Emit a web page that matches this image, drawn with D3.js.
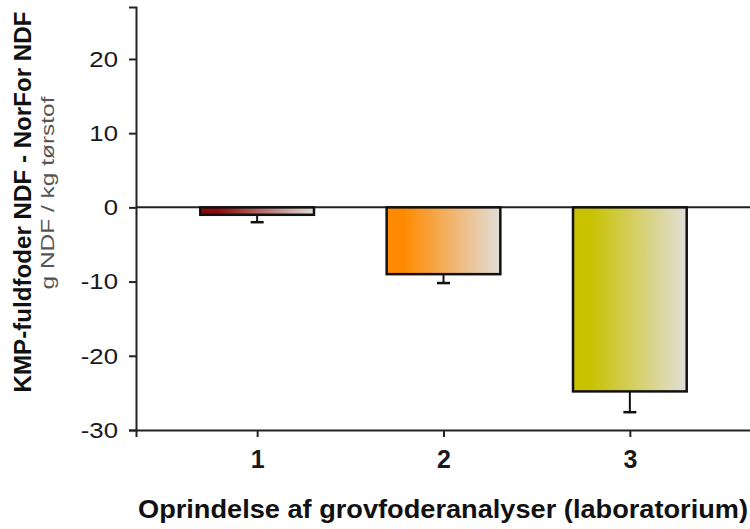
<!DOCTYPE html>
<html>
<head>
<meta charset="utf-8">
<script src="https://cdn.jsdelivr.net/npm/d3@7"></script>
<style>
  body { margin: 0; background: #fff; }
  svg { display: block; font-family: "Liberation Sans", Arial, sans-serif; }
</style>
</head>
<body>
<div id="chart"></div>
<script>
// data
const categories = [1, 2, 3];
const values = [-1.0, -9.0, -24.8];
const errors = [1.0, 1.2, 2.8];
const yTicks = [-30, -20, -10, 0, 10, 20];
const colors = ["#8c0a0a", "#ff8a00", "#c8c200"];
const xTitle = "Oprindelse af grovfoderanalyser (laboratorium)";
const yTitle = "KMP-fuldfoder NDF - NorFor NDF";
const ySubTitle = "g NDF / kg tørstof";

const width = 750, height = 529;

const svg = d3.select("#chart").append("svg")
    .attr("width", width)
    .attr("height", height);

const x = d3.scaleLinear().domain([0.35, 3.65]).range([136, 751]);
const y = d3.scaleLinear().domain([-30, 27]).range([430, 7]);
const barW = 0.61;

// gradients, strong colour on the left fading to grey-white
const defs = svg.append("defs");
colors.forEach((c, i) => {
    const g = defs.append("linearGradient")
        .attr("id", "grad" + i)
        .attr("x1", "0%").attr("x2", "100%")
        .attr("y1", "0%").attr("y2", "0%");
    g.append("stop").attr("offset", "0%").attr("stop-color", c);
    g.append("stop").attr("offset", "15%").attr("stop-color", c);
    g.append("stop").attr("offset", "100%").attr("stop-color", "#e2ded8");
});

// y axis
const yAxis = d3.axisLeft(y).tickValues(yTicks).tickSize(7).tickPadding(0).tickFormat(d => String(d));
const gy = svg.append("g")
    .attr("transform", `translate(${x(0.35)},0)`)
    .call(yAxis);
gy.select(".domain").attr("stroke", "#222").attr("stroke-width", 2);
gy.selectAll(".tick line").attr("stroke", "#222").attr("stroke-width", 2);
gy.selectAll(".tick text")
    .attr("font-size", 23)
    .attr("fill", "#1a1a1a")
    .attr("x", -18 / 1.12)
    .attr("transform", "scale(1.12,1)")
    .attr("font-family", "'Liberation Sans', Arial, sans-serif");

// x axis
const xAxis = d3.axisBottom(x).tickValues(categories).tickSize(7).tickPadding(13).tickFormat(d => String(d));
const gx = svg.append("g")
    .attr("transform", `translate(0,${y(-30)})`)
    .call(xAxis);
gx.select(".domain").attr("stroke", "#222").attr("stroke-width", 2);
gx.selectAll(".tick line").attr("stroke", "#222").attr("stroke-width", 2);
gx.selectAll(".tick text")
    .attr("font-size", 25)
    .attr("font-weight", "bold")
    .attr("fill", "#1a1a1a")
    .attr("font-family", "'Liberation Sans', Arial, sans-serif");

// zero line
svg.append("line")
    .attr("x1", x(0.35)).attr("x2", x(3.65))
    .attr("y1", y(0)).attr("y2", y(0))
    .attr("stroke", "#222").attr("stroke-width", 2);

// error bars (downward only)
const err = svg.append("g");
categories.forEach((c, i) => {
    const v = values[i], e = errors[i];
    err.append("line")
        .attr("x1", x(c)).attr("x2", x(c))
        .attr("y1", y(v)).attr("y2", y(v - e))
        .attr("stroke", "#111").attr("stroke-width", 2);
    err.append("line")
        .attr("x1", x(c) - 6.5).attr("x2", x(c) + 6.5)
        .attr("y1", y(v - e)).attr("y2", y(v - e))
        .attr("stroke", "#111").attr("stroke-width", 2.5);
});

// bars
svg.append("g").selectAll("rect")
    .data(categories)
    .join("rect")
    .attr("x", d => x(d - barW / 2))
    .attr("width", d => x(d + barW / 2) - x(d - barW / 2))
    .attr("y", (d, i) => y(Math.max(0, values[i])))
    .attr("height", (d, i) => Math.abs(y(values[i]) - y(0)))
    .attr("fill", (d, i) => `url(#grad${i})`)
    .attr("stroke", "#111")
    .attr("stroke-width", 2.5);

// axis titles
svg.append("text")
    .attr("x", 443).attr("y", 518)
    .attr("text-anchor", "middle")
    .attr("font-size", 25)
    .attr("font-weight", "bold")
    .attr("fill", "#111")
    .attr("textLength", 610)
    .attr("lengthAdjust", "spacingAndGlyphs")
    .text(xTitle);

svg.append("text")
    .attr("transform", "translate(31,202) rotate(-90)")
    .attr("text-anchor", "middle")
    .attr("font-size", 24)
    .attr("font-weight", "bold")
    .attr("fill", "#111")
    .attr("textLength", 381)
    .attr("lengthAdjust", "spacingAndGlyphs")
    .text(yTitle);

svg.append("text")
    .attr("transform", "translate(54,193) rotate(-90)")
    .attr("text-anchor", "middle")
    .attr("font-size", 18)
    .attr("fill", "#555")
    .attr("textLength", 193)
    .attr("lengthAdjust", "spacingAndGlyphs")
    .text(ySubTitle);
</script>
</body>
</html>
